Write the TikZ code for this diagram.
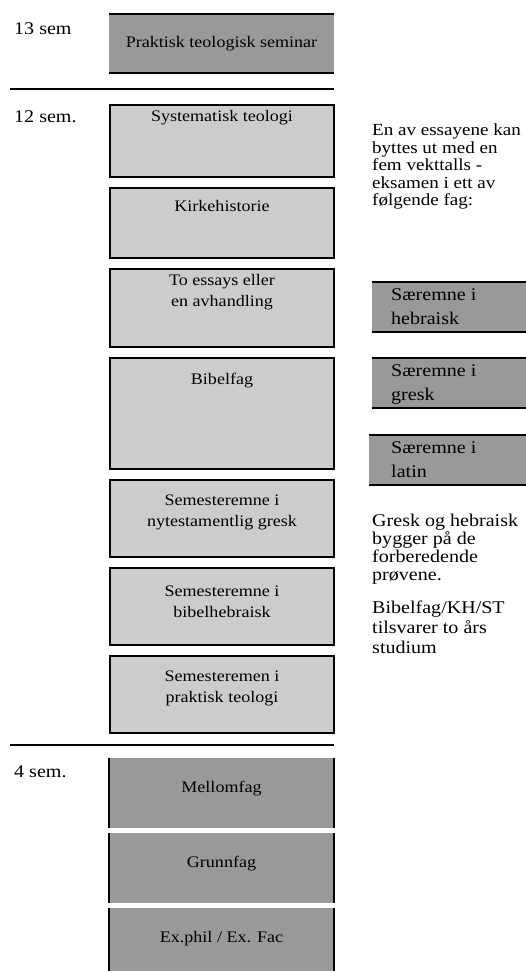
\documentclass[tikz,border=0pt]{standalone}
\usepackage{fontspec}
\setmainfont{Liberation Serif}[FakeStretch=1.12]
\usetikzlibrary{positioning}
\definecolor{darkfag}{HTML}{999999}
\definecolor{lightfag}{HTML}{CCCCCC}
\begin{document}
\begin{tikzpicture}
      [x=1pt, y=-1pt,
      node distance=11pt,
      fag/.style={draw, line width=2.2pt, fill=lightfag, minimum width=224pt, inner sep=0pt, outer sep=0pt},
      band/.style={fill=darkfag, minimum width=225pt, inner sep=0pt, outer sep=0pt},
      fagtext/.style={inner sep=0pt, align=center, font=\fontsize{16.1}{21}\selectfont},
      note/.style={inner sep=0pt, align=left, font=\fontsize{17.9}{18}\selectfont},
      semlabel/.style={inner sep=0pt, anchor=base west, font=\fontsize{17.9}{18}\selectfont},
      rule/.style={line width=2pt}]
      \useasboundingbox (0,0) rectangle (526,971);
      \node[semlabel] (sem13) at (14,35) {13 sem};
      \node[semlabel] (sem12) at (14,122) {12 sem.};
      \node[semlabel] (sem4) at (14,777) {4 sem.};
      \node[band, minimum height=59pt, anchor=north west, font=\fontsize{16.1}{21}\selectfont] (seminar) at (109,14) {Praktisk teologisk seminar};
      \draw[rule] (seminar.north west) -- (seminar.north east);
      \draw[rule] (seminar.south west) -- (seminar.south east);
      \coordinate (skille1a) at (10,89);
      \coordinate (skille1b) at (334,89);
      \draw[rule] (skille1a) -- (skille1b);
      \node[fag, minimum height=72pt, anchor=north west] (sys) at (110,105) {};
      \node[fag, minimum height=70pt, below=of sys] (kirke) {};
      \node[fag, minimum height=78pt, below=of kirke] (essay) {};
      \node[fag, minimum height=111pt, below=of essay] (bibel) {};
      \node[fag, minimum height=77pt, below=of bibel] (nt) {};
      \node[fag, minimum height=77pt, below=of nt] (hebr) {};
      \node[fag, minimum height=77pt, below=of hebr] (prak) {};
      \node[fagtext, below=5pt of sys.north] (systext) {Systematisk teologi};
      \node[fagtext, below=12pt of kirke.north] (kirketext) {Kirkehistorie};
      \node[fagtext, below=5pt of essay.north] (essaytext) {To essays eller\\en avhandling};
      \node[fagtext, below=15pt of bibel.north] (bibeltext) {Bibelfag};
      \node[fagtext, below=15pt of nt.north] (nttext) {Semesteremne i\\nytestamentlig gresk};
      \node[fagtext, below=18pt of hebr.north] (hebrtext) {Semesteremne i\\bibelhebraisk};
      \node[fagtext, below=15pt of prak.north] (praktext) {Semesteremen i\\praktisk teologi};
      \coordinate (skille2a) at (10,745);
      \coordinate (skille2b) at (334,745);
      \draw[rule] (skille2a) -- (skille2b);
      \node[band, minimum height=70pt, anchor=north west] (mellom) at (109,758) {};
      \node[band, minimum height=70pt, below=5pt of mellom] (grunn) {};
      \node[band, minimum height=63pt, below=5pt of grunn] (exphil) {};
      \foreach \n in {mellom, grunn, exphil} {
        \draw[rule] (\n.north west) -- (\n.south west);
        \draw[rule] (\n.north east) -- (\n.south east);
      }
      \node[fagtext, below=23pt of mellom.north] (mellomtext) {Mellomfag};
      \node[fagtext, below=23pt of grunn.north] (grunntext) {Grunnfag};
      \node[fagtext, below=23pt of exphil.north] (exphiltext) {Ex.phil / Ex. Fac};
      \node[note, anchor=north west, font=\fontsize{17}{17.5}\selectfont] (bytte) at (372,124) {En av essayene kan\\byttes ut med en\\fem vekttalls -\\eksamen i ett av\\følgende fag:};
      \node[band, minimum width=154pt, minimum height=50pt, anchor=north west] (hebraisk) at (372,282) {};
      \node[band, minimum width=154pt, minimum height=50pt, anchor=north west] (gresk) at (372,358) {};
      \node[band, minimum width=157pt, minimum height=50pt, anchor=north west] (latin) at (369,435) {};
      \foreach \n in {hebraisk, gresk, latin} {
        \draw[rule] (\n.north west) -- (\n.north east);
        \draw[rule] (\n.south west) -- (\n.south east);
      }
      \node[note, below right=6pt and 19pt of hebraisk.north west, font=\fontsize{17.9}{24}\selectfont] (hebraisktext) {Særemne i\\hebraisk};
      \node[note, below right=6pt and 19pt of gresk.north west, font=\fontsize{17.9}{24}\selectfont] (gresktext) {Særemne i\\gresk};
      \node[note, below right=6pt and 22pt of latin.north west, font=\fontsize{17.9}{24}\selectfont] (latintext) {Særemne i\\latin};
      \node[note, anchor=north west] (bygger) at (372,514) {Gresk og hebraisk\\bygger på de\\forberedende\\prøvene.};
      \node[note, anchor=north west, font=\fontsize{17.9}{20}\selectfont] (tilsvarer) at (372,601) {Bibelfag/KH/ST\\tilsvarer to års\\studium};
\end{tikzpicture}
\end{document}
